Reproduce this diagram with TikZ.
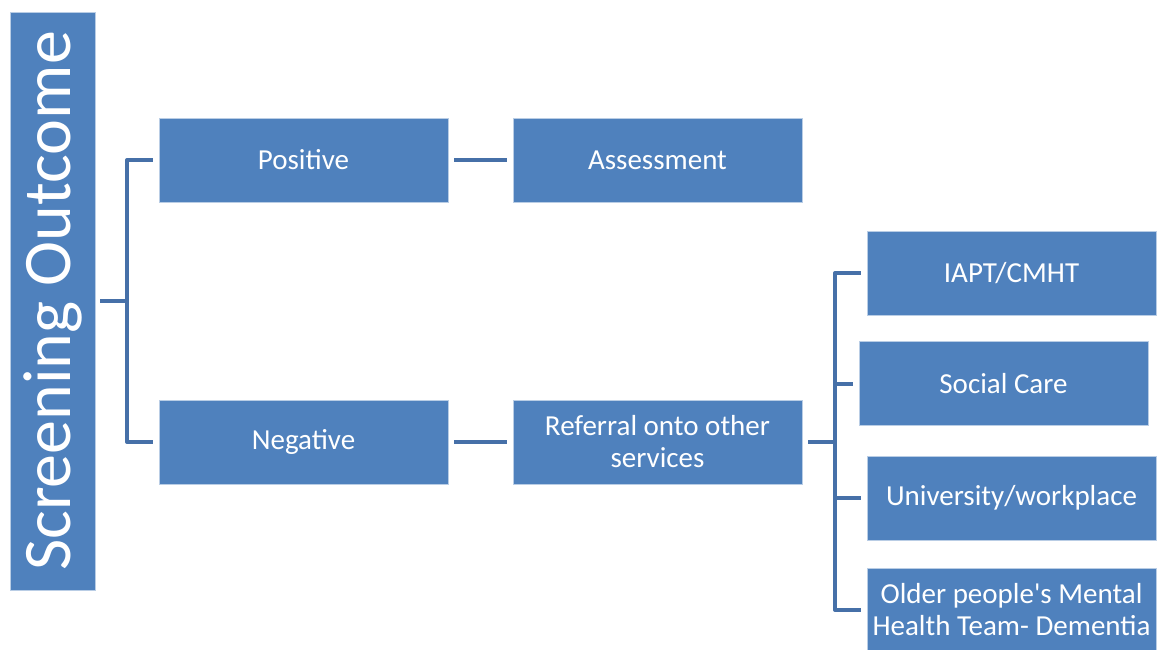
\documentclass[tikz,border=0pt]{standalone}
\usepackage{fontspec}
\setmainfont{Carlito}[Ligatures=TeXOff]
\definecolor{boxblue}{HTML}{4F81BD}
\definecolor{linkblue}{HTML}{4670A8}

\tikzset{
  box/.style = {fill = boxblue, draw = white!60!boxblue, line width = 0.6pt,
    minimum width = 289pt, minimum height = 84pt, inner sep = 0pt,
    text = white, align = center, font = \fontsize{29}{32}\selectfont},
  link/.style = {draw = linkblue, line width = 4pt, line join = round,
    shorten < = 6pt, shorten > = 6pt}
}

\begin{document}
\begin{tikzpicture}[x = 1pt, y = -1pt]
    \useasboundingbox (0, 0) rectangle (1162, 649);

    % root
    \node[box, rotate = 90, minimum width = 578pt, minimum height = 85pt,
      font = \fontsize{68}{80}\selectfont] (root) at (52.5, 301) {Screening Outcome};

    % outcomes
    \node[box] (pos) at (303.5, 160) {Positive};
    \node[box] (neg) at (303.5, 442) {Negative};
    \node[box] (assess) at (657.5, 160) {Assessment};
    \node[box] (refer) at (657.5, 442) {Referral onto other\\services};

    % services
    \node[box] (iapt) at (1011.5, 273) {IAPT/CMHT};
    \node[box] (social) at (1003.5, 383.5) {Social Care};
    \node[box] (uni) at (1011.5, 498) {University/workplace};
    \node[box] (older) at (1011.5, 610) {Older people's Mental\\Health Team- Dementia};

    \coordinate (rootfork) at (127, 301);
    \coordinate (referfork) at (835, 442);

    \draw[link, shorten < = 5pt] (root.south) -- (rootfork) |- (pos.west);
    \draw[link, shorten < = 5pt] (root.south) -- (rootfork) |- (neg.west);
    \draw[link] (pos) -- (assess);
    \draw[link] (neg) -- (refer);
    \draw[link] (refer.east) -- (referfork) |- (iapt.west);
    \draw[link] (refer.east) -- (referfork) |- (social.west);
    \draw[link] (refer.east) -- (referfork) |- (uni.west);
    \draw[link] (refer.east) -- (referfork) |- (older.west);
  \end{tikzpicture}
\end{document}
